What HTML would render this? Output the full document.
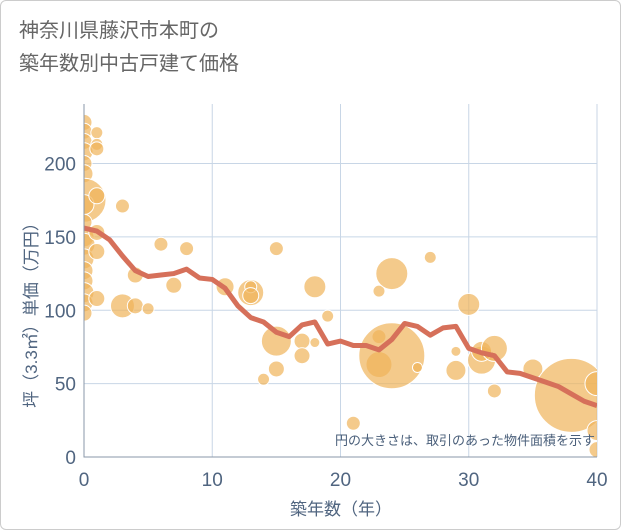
<!DOCTYPE html>
<html><head><meta charset="utf-8"><style>
body{margin:0;background:#fff;font-family:"Liberation Sans","Noto Sans CJK JP",sans-serif}
#wrap{position:relative;width:619px;height:528px;border:1px solid #ccc;border-radius:6px;overflow:hidden}
#title{position:absolute;left:18px;top:14px;font-size:20px;line-height:33px;color:#666}
</style></head><body>
<div id="wrap">
<div id="title">神奈川県藤沢市本町の<br>築年数別中古戸建て価格</div>
<svg id="chart" width="621" height="530" style="position:absolute;left:0;top:0"></svg>
</div>
<script>
const years=[0,1,2,3,4,5,6,7,8,9,10,11,12,13,14,15,16,17,18,19,20,21,22,23,24,25,26,27,28,29,30,31,32,33,34,35,36,37,38,39,40];
const avgPrice=[156,154,148,137,127,123,124,125,128,122,121,115,103,95,92,85,82,90,92,77,79,76,76,73,80,91,89,83,88,89,74,71,69,58,57,54,51,48,43,38,35];
const bubbleAge=[0,0,0,0,0,0,0,0,0,0,0,0,0,0,0,0,0,1,1,1,1,1,1,1,3,3,4,4,5,6,7,8,11,13,13,13,14,15,15,15,17,17,18,18,19,21,23,23,23,24,24,26,27,29,29,30,31,31,32,32,35,38,40,40,40];
const bubblePrice=[228,222,215,208,200,193,175,172,160,150,145,135,127,120,112,105,98,221,213,210,178,153,140,108,171,103,124,103,101,145,117,142,116,112,116,110,53,142,79,60,79,69,116,78,96,23,113,82,63,69,125,61,136,59,72,104,66,72,74,45,60,42,50,18,5];
const bubbleSize=[8,8,8,9,8,9,22,10,8,10,11,10,9,9,10,9,8,6,6,7,8,8,8,8,7,12,8,8,6,7,8,7,9,13,6,8,6,7,15,8,8,8,11,5,6,7,6,7,13,33,16,5,6,10,5,11,14,10,13,7,10,37,12,10,8];
const xTicks=[0,10,20,30,40];
const yTicks=[0,50,100,150,200];
const X0=83,X1=596,Y0=456,YT=103;
const xs=v=>X0+v*(X1-X0)/40;
const ys=v=>Y0-v*(Y0-162.5)/200;
const svg=document.getElementById('chart');
const NS='http://www.w3.org/2000/svg';
function mk(t,a){const e=document.createElementNS(NS,t);for(const k in a)e.setAttribute(k,a[k]);return e;}
const defs=mk('defs',{});const cp=mk('clipPath',{id:'clip'});cp.appendChild(mk('rect',{x:X0,y:YT,width:X1-X0,height:Y0-YT}));defs.appendChild(cp);svg.appendChild(defs);
for(const t of xTicks){
 const l=mk('line',{x1:xs(t),x2:xs(t),y1:YT,y2:Y0,stroke:'#c8d6e6','stroke-width':1});
 svg.appendChild(l);
 const tx=mk('text',{x:xs(t),y:485,'text-anchor':'middle','font-size':19,fill:'#506580'});tx.textContent=t;
 svg.appendChild(tx);
}
for(const t of yTicks){
 const l=mk('line',{x1:X0,x2:X1,y1:ys(t),y2:ys(t),stroke:'#c8d6e6','stroke-width':1});
 svg.appendChild(l);
 const tx=mk('text',{x:75,y:ys(t)+7,'text-anchor':'end','font-size':19,fill:'#506580'});tx.textContent=t;
 svg.appendChild(tx);
}
const g=mk('g',{'clip-path':'url(#clip)'});svg.appendChild(g);
for(let i=0;i<bubbleAge.length;i++){
 const c=mk('circle',{cx:xs(bubbleAge[i]),cy:ys(bubblePrice[i]),r:bubbleSize[i],fill:'rgba(240,180,90,0.7)',stroke:'#fff','stroke-width':1});
 g.appendChild(c);
}
const p=mk('polyline',{points:years.map((y,i)=>xs(y)+','+ys(avgPrice[i])).join(' '),fill:'none',stroke:'#d6705a','stroke-width':5,'stroke-linejoin':'round'});
g.appendChild(p);
const ax=mk('path',{d:`M${X0} ${YT}V${Y0}H${X1}`,fill:'none',stroke:'#8a97a8','stroke-width':1});
svg.appendChild(ax);
const note=mk('text',{x:594,y:444,'text-anchor':'end','font-size':13,fill:'#4a5f7a'});note.textContent='円の大きさは、取引のあった物件面積を示す';
svg.appendChild(note);
const xt=mk('text',{x:340,y:514,'text-anchor':'middle','font-size':17,fill:'#506580'});xt.textContent='築年数（年）';
svg.appendChild(xt);
const yt=mk('text',{x:0,y:0,'text-anchor':'middle','font-size':17,fill:'#506580',transform:'translate(36,310) rotate(-90)'});yt.textContent='坪（3.3㎡）単価（万円）';
svg.appendChild(yt);
</script>
</body></html>
